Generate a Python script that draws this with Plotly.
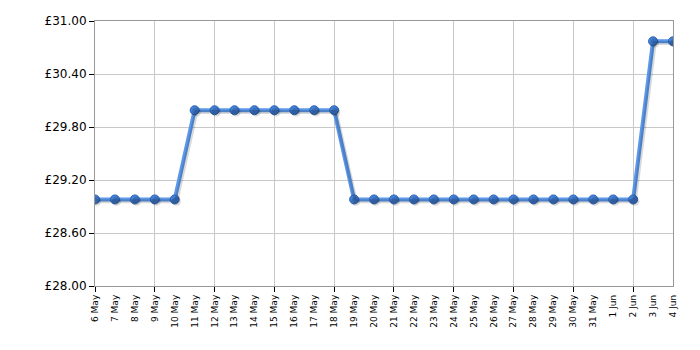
import plotly.graph_objects as go
import pandas as pd

dates = pd.date_range("2023-05-06", "2023-06-04", freq="D")
prices = ([28.98] * 5 + [29.99] * 8 + [28.98] * 15 + [30.77] * 2)
y_ticks = [28.00, 28.60, 29.20, 29.80, 30.40, 31.00]
y_labels = ["£%.2f" % v for v in y_ticks]
day_labels = [f"{d.day} {d.strftime('%b')}" for d in dates]

x0, x1 = dates[0], dates[-1]
shadow_dx = pd.Timedelta(hours=2)

fig = go.Figure()
# shadow
fig.add_trace(go.Scatter(x=dates + shadow_dx, y=prices, xaxis="x", yaxis="y3", mode="lines+markers",
                         line=dict(color="rgba(0,0,0,0.15)", width=4),
                         marker=dict(size=9, color="rgba(0,0,0,0.15)"),
                         hoverinfo="skip", showlegend=False))
fig.add_trace(go.Scatter(x=dates, y=prices, mode="lines+markers",
                         line=dict(color="#5b98ea", width=4),
                         marker=dict(size=9, color="#4282da", line=dict(color="#2f62b4", width=1)),
                         showlegend=False))
# label axis
fig.add_trace(go.Scatter(x=dates, y=prices, xaxis="x2", mode="markers",
                         marker=dict(opacity=0), hoverinfo="skip", showlegend=False))

fig.update_layout(
    width=700, height=350,
    margin=dict(l=95, r=27, t=21, b=64),
    plot_bgcolor="white", paper_bgcolor="white",
    font=dict(family="DejaVu Sans, Verdana", size=12, color="#000"),
    xaxis=dict(type="date", range=[x0, x1], dtick=3 * 86400000, tick0=x0,
               showgrid=True, gridcolor="#c8c8c8", gridwidth=1,
               ticks="outside", ticklen=5, tickcolor="#000",
               showticklabels=False, showline=True, linecolor="#999", mirror=True,
               zeroline=False),
    xaxis2=dict(type="date", range=[x0, x1], overlaying="x", anchor="y", side="bottom",
                tickvals=list(dates), ticktext=day_labels, tickangle=-90,
                ticklabelstandoff=6,
                showgrid=False, ticks="", tickfont=dict(size=9, family="DejaVu Sans, Verdana"),
                showline=False, zeroline=False),
    yaxis=dict(range=[28.0, 31.0], tickvals=y_ticks, ticktext=y_labels,
               showgrid=True, gridcolor="#c8c8c8", gridwidth=1,
               ticks="outside", ticklen=5, tickcolor="#000",
               tickfont=dict(size=12), showline=True, linecolor="#999", mirror=True,
               zeroline=False),
    yaxis3=dict(range=[28.0 + 0.02, 31.0 + 0.02], overlaying="y", visible=False),
)

fig.write_html("out.html")
